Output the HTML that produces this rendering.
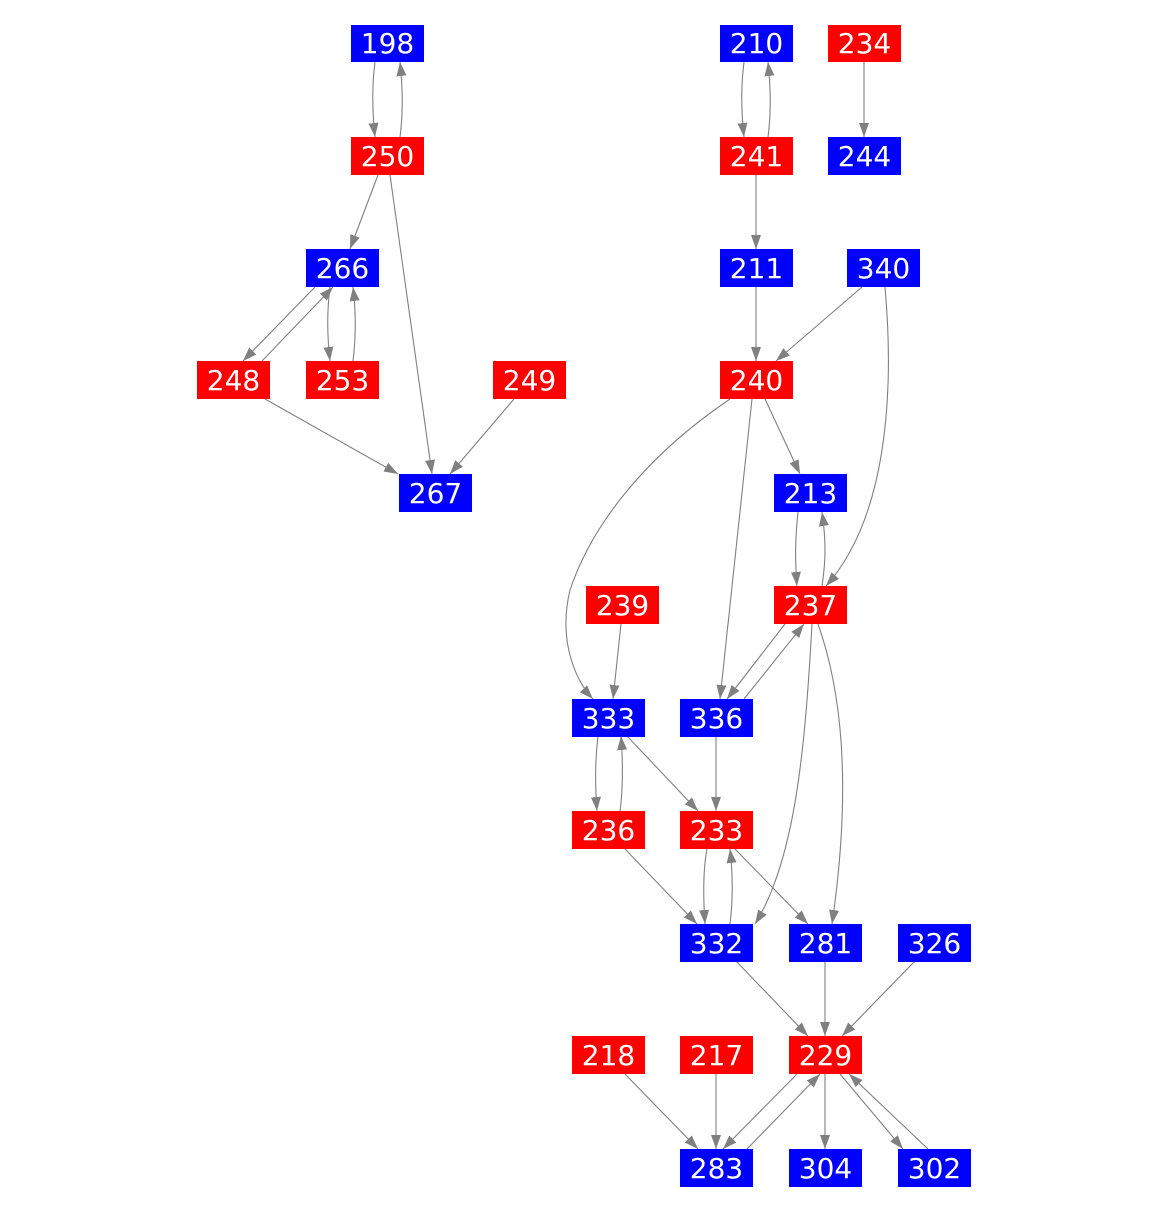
<!DOCTYPE html>
<html><head><style>body{margin:0;background:#fff}svg{display:block}</style></head><body>
<svg width="1167" height="1212" xmlns="http://www.w3.org/2000/svg">
<defs><marker id="a" markerWidth="14" markerHeight="10" refX="14" refY="5" orient="auto" markerUnits="userSpaceOnUse"><path d="M0,0L14,5L0,10z" fill="#808080"/></marker></defs>
<g fill="none" stroke="#808080" stroke-width="1.1" marker-end="url(#a)">
<path d="M375,62C372,85 372,110 375,137"/>
<path d="M400,137C403,115 403,90 400,62"/>
<path d="M378,175L350,249"/>
<path d="M390,175L432,474"/>
<path d="M315,287L243,361"/>
<path d="M262,361L333,287"/>
<path d="M330,287C327,310 327,335 330,361"/>
<path d="M353,361C356,337 356,312 353,287"/>
<path d="M265,399L398,474"/>
<path d="M514,399L450,474"/>
<path d="M744,62C741,85 741,110 744,137"/>
<path d="M768,137C771,115 771,90 768,62"/>
<path d="M864,62L864,137"/>
<path d="M756,175L756,249"/>
<path d="M756,287L756,361"/>
<path d="M862,287L776,361"/>
<path d="M885,287C895,400 885,520 826,586"/>
<path d="M765,399L800,474"/>
<path d="M730,399C640,460 590,530 570,590C558,640 575,680 593,699"/>
<path d="M752,399L720,699"/>
<path d="M798,512C795,540 795,560 797,586"/>
<path d="M822,586C826,560 826,540 822,512"/>
<path d="M785,624L727,699"/>
<path d="M744,699L804,624"/>
<path d="M812,624C805,750 795,860 755,924"/>
<path d="M818,624C845,700 850,800 832,924"/>
<path d="M621,624L613,699"/>
<path d="M598,736C595,760 595,785 597,811"/>
<path d="M620,811C623,790 623,760 621,736"/>
<path d="M627,736L698,811"/>
<path d="M716,736L716,811"/>
<path d="M707,849C703,870 703,895 705,924"/>
<path d="M730,924C733,900 733,875 730,849"/>
<path d="M625,849L697,924"/>
<path d="M735,849L808,924"/>
<path d="M736,961L808,1036"/>
<path d="M825,961L825,1036"/>
<path d="M915,961L842,1036"/>
<path d="M625,1074L698,1149"/>
<path d="M716,1074L716,1149"/>
<path d="M797,1074L723,1149"/>
<path d="M747,1149L820,1074"/>
<path d="M825,1074L825,1149"/>
<path d="M840,1074L903,1149"/>
<path d="M928,1149L849,1074"/>
</g>
<g font-family="DejaVu Sans, sans-serif" font-size="28" text-anchor="middle">
<rect x="351" y="25" width="73" height="37" fill="#0000ff"/><text x="387.5" y="53" fill="#fff">198</text>
<rect x="351" y="137" width="73" height="38" fill="#ff0000"/><text x="387.5" y="166" fill="#fff">250</text>
<rect x="306" y="249" width="73" height="38" fill="#0000ff"/><text x="342.5" y="278" fill="#fff">266</text>
<rect x="197" y="361" width="73" height="38" fill="#ff0000"/><text x="233.5" y="390" fill="#fff">248</text>
<rect x="306" y="361" width="73" height="38" fill="#ff0000"/><text x="342.5" y="390" fill="#fff">253</text>
<rect x="493" y="361" width="73" height="38" fill="#ff0000"/><text x="529.5" y="390" fill="#fff">249</text>
<rect x="399" y="474" width="73" height="38" fill="#0000ff"/><text x="435.5" y="503" fill="#fff">267</text>
<rect x="720" y="25" width="73" height="37" fill="#0000ff"/><text x="756.5" y="53" fill="#fff">210</text>
<rect x="828" y="25" width="73" height="37" fill="#ff0000"/><text x="864.5" y="53" fill="#fff">234</text>
<rect x="720" y="137" width="73" height="38" fill="#ff0000"/><text x="756.5" y="166" fill="#fff">241</text>
<rect x="828" y="137" width="73" height="38" fill="#0000ff"/><text x="864.5" y="166" fill="#fff">244</text>
<rect x="720" y="249" width="73" height="38" fill="#0000ff"/><text x="756.5" y="278" fill="#fff">211</text>
<rect x="847" y="249" width="73" height="38" fill="#0000ff"/><text x="883.5" y="278" fill="#fff">340</text>
<rect x="720" y="361" width="73" height="38" fill="#ff0000"/><text x="756.5" y="390" fill="#fff">240</text>
<rect x="774" y="474" width="73" height="38" fill="#0000ff"/><text x="810.5" y="503" fill="#fff">213</text>
<rect x="586" y="586" width="73" height="38" fill="#ff0000"/><text x="622.5" y="615" fill="#fff">239</text>
<rect x="774" y="586" width="73" height="38" fill="#ff0000"/><text x="810.5" y="615" fill="#fff">237</text>
<rect x="572" y="699" width="73" height="38" fill="#0000ff"/><text x="608.5" y="728" fill="#fff">333</text>
<rect x="680" y="699" width="73" height="38" fill="#0000ff"/><text x="716.5" y="728" fill="#fff">336</text>
<rect x="572" y="811" width="73" height="38" fill="#ff0000"/><text x="608.5" y="840" fill="#fff">236</text>
<rect x="680" y="811" width="73" height="38" fill="#ff0000"/><text x="716.5" y="840" fill="#fff">233</text>
<rect x="680" y="924" width="73" height="38" fill="#0000ff"/><text x="716.5" y="953" fill="#fff">332</text>
<rect x="789" y="924" width="73" height="38" fill="#0000ff"/><text x="825.5" y="953" fill="#fff">281</text>
<rect x="898" y="924" width="73" height="38" fill="#0000ff"/><text x="934.5" y="953" fill="#fff">326</text>
<rect x="572" y="1036" width="73" height="38" fill="#ff0000"/><text x="608.5" y="1065" fill="#fff">218</text>
<rect x="680" y="1036" width="73" height="38" fill="#ff0000"/><text x="716.5" y="1065" fill="#fff">217</text>
<rect x="789" y="1036" width="73" height="38" fill="#ff0000"/><text x="825.5" y="1065" fill="#fff">229</text>
<rect x="680" y="1149" width="73" height="38" fill="#0000ff"/><text x="716.5" y="1178" fill="#fff">283</text>
<rect x="789" y="1149" width="73" height="38" fill="#0000ff"/><text x="825.5" y="1178" fill="#fff">304</text>
<rect x="898" y="1149" width="73" height="38" fill="#0000ff"/><text x="934.5" y="1178" fill="#fff">302</text>
</g>
</svg>
</body></html>
